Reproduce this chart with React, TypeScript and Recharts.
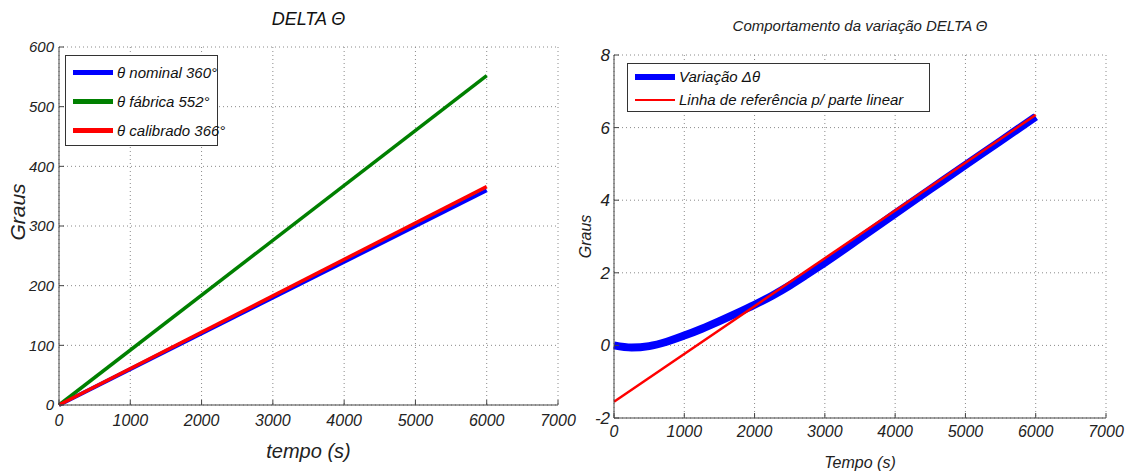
import React from 'react';
import { LineChart, Line, XAxis, YAxis, CartesianGrid } from 'recharts';

// left plot: DELTA theta for the three cases
const leftTime = [0, 6000];
const nominal = [0, 360];
const fabrica = [0, 552];
const calibrado = [0, 366];
const leftXTicks = [0, 1000, 2000, 3000, 4000, 5000, 6000, 7000];
const leftYTicks = [0, 100, 200, 300, 400, 500, 600];

// right plot: variation vs. linear reference
const varTime = [0, 250, 500, 750, 1000, 1250, 1500, 1750, 2000, 2250, 2500, 2750, 3000, 3500, 4000, 4500, 5000, 5500, 6000];
const variacao = [0, -0.06, -0.02, 0.1, 0.27, 0.46, 0.67, 0.89, 1.12, 1.37, 1.65, 1.96, 2.28, 2.95, 3.63, 4.3, 4.97, 5.63, 6.3];
const refTime = [0, 6000];
const referencia = [-1.55, 6.35];
const rightXTicks = [0, 1000, 2000, 3000, 4000, 5000, 6000, 7000];
const rightYTicks = [-2, 0, 2, 4, 6, 8];

const SANS = "'Liberation Sans', Arial, sans-serif";
const AXIS = '#444';
const GRID = '#8a8a8a';

const leftData = leftTime.map((t, i) => ({ t, nominal: nominal[i], fabrica: fabrica[i], calibrado: calibrado[i] }));
const varData = varTime.map((t, i) => ({ t, v: variacao[i] }));
const refData = refTime.map((t, i) => ({ t, v: referencia[i] }));

const tickStyle = (size: number) => ({ fontFamily: SANS, fontStyle: 'italic', fontSize: size, fill: '#222' });

const yLabel = (text: string, x: number, size: number, shift = 0) => (props: any) => {
  const vb = props.viewBox;
  const cy = vb.y + vb.height / 2 + shift;
  return (
    <text x={x} y={cy} transform={`rotate(-90 ${x} ${cy})`} textAnchor="middle" dominantBaseline="central"
      style={{ fontFamily: SANS, fontStyle: 'italic', fontSize: size, fill: '#222' }}>{text}</text>
  );
};

const xLabel = (text: string, y: number, size: number) => (props: any) => {
  const vb = props.viewBox;
  const cx = vb.x + vb.width / 2;
  return (
    <text x={cx} y={y} textAnchor="middle" dominantBaseline="central"
      style={{ fontFamily: SANS, fontStyle: 'italic', fontSize: size, fill: '#222' }}>{text}</text>
  );
};

const LegendBox = ({ items, style, size, rowH }: any) => (
  <div style={{ position: 'absolute', background: '#fff', border: '1px solid #333', boxSizing: 'border-box', ...style }}>
    {items.map((it: any) => (
      <div key={it.name} style={{ display: 'flex', alignItems: 'center', height: rowH }}>
        <div style={{ flex: '0 0 40px', height: it.w, background: it.color, marginLeft: 7, marginRight: 4 }} />
        <span style={{ fontFamily: SANS, fontStyle: 'italic', fontSize: size, color: '#111', whiteSpace: 'nowrap' }}>{it.name}</span>
      </div>
    ))}
  </div>
);

const LeftChart = () => (
  <LineChart width={600} height={475} data={leftData} margin={{ top: 47, right: 42, left: 0, bottom: 0 }}>
    <CartesianGrid stroke={GRID} strokeDasharray="1 3" />
    <XAxis dataKey="t" type="number" domain={[0, 7000]} ticks={leftXTicks} height={70}
      stroke={AXIS} tickSize={-5} tickMargin={15} tick={tickStyle(16)} interval={0}
      label={{ content: xLabel('tempo (s)', 451, 20) }} />
    <XAxis xAxisId="top" orientation="top" type="number" domain={[0, 7000]} ticks={leftXTicks} height={0}
      stroke={AXIS} tickSize={-5} tick={false} />
    <YAxis type="number" domain={[0, 600]} ticks={leftYTicks} width={59}
      stroke={AXIS} tickSize={-5} tickMargin={10} tick={tickStyle(15)} interval={0}
      label={{ content: yLabel('Graus', 17, 21, -14) }} />
    <YAxis yAxisId="right" orientation="right" type="number" domain={[0, 600]} ticks={leftYTicks} width={0}
      stroke={AXIS} tickSize={-5} tick={false} />
    <Line dataKey="nominal" stroke="#0000ff" strokeWidth={4} dot={false} isAnimationActive={false} />
    <Line dataKey="fabrica" stroke="#008000" strokeWidth={3.5} dot={false} isAnimationActive={false} />
    <Line dataKey="calibrado" stroke="#ff0000" strokeWidth={3.5} dot={false} isAnimationActive={false} />
  </LineChart>
);

const RightChart = () => (
  <LineChart width={565} height={475} margin={{ top: 55, right: 29, left: 0, bottom: 0 }}>
    <CartesianGrid stroke={GRID} strokeDasharray="1 3" />
    <XAxis dataKey="t" type="number" domain={[0, 7000]} ticks={rightXTicks} height={57}
      stroke={AXIS} tickSize={-5} tickMargin={13} tick={tickStyle(16)} interval={0}
      label={{ content: xLabel('Tempo (s)', 462, 16) }} />
    <XAxis xAxisId="top" orientation="top" type="number" domain={[0, 7000]} ticks={rightXTicks} height={0}
      stroke={AXIS} tickSize={-5} tick={false} />
    <YAxis type="number" domain={[-2, 8]} ticks={rightYTicks} width={44}
      stroke={AXIS} tickSize={-5} tickMargin={9} tick={tickStyle(17)} interval={0}
      label={{ content: yLabel('Graus', 15, 16) }} />
    <YAxis yAxisId="right" orientation="right" type="number" domain={[-2, 8]} ticks={rightYTicks} width={0}
      stroke={AXIS} tickSize={-5} tick={false} />
    <Line data={varData} dataKey="v" type="monotone" stroke="#0000ff" strokeWidth={8} dot={false} isAnimationActive={false} />
    <Line data={refData} dataKey="v" stroke="#ff0000" strokeWidth={2.5} dot={false} isAnimationActive={false} />
  </LineChart>
);

export default function App() {
  return (
    <div style={{ position: 'absolute', left: 0, top: 0, width: 1135, height: 475, background: '#fff', overflow: 'hidden' }}>
      <div style={{ position: 'absolute', left: 0, top: 0 }}>
        <LeftChart />
      </div>
      <div style={{ position: 'absolute', left: 570, top: 0 }}>
        <RightChart />
      </div>
      <div style={{ position: 'absolute', left: 59, width: 499, top: 9, textAlign: 'center', fontFamily: SANS, fontStyle: 'italic', fontSize: 18, color: '#111' }}>
        DELTA Θ
      </div>
      <div style={{ position: 'absolute', left: 614, width: 492, top: 17, textAlign: 'center', fontFamily: SANS, fontStyle: 'italic', fontSize: 15, color: '#222' }}>
        Comportamento da variação DELTA Θ
      </div>
      <LegendBox
        style={{ left: 65, top: 55, width: 153, height: 91, paddingTop: 2 }}
        size={15} rowH={29}
        items={[
          { name: 'θ nominal 360°', color: '#0000ff', w: 5 },
          { name: 'θ fábrica 552°', color: '#008000', w: 5 },
          { name: 'θ calibrado 366°', color: '#ff0000', w: 5 },
        ]} />
      <LegendBox
        style={{ left: 627, top: 63, width: 303, height: 49, paddingTop: 1 }}
        size={15} rowH={23}
        items={[
          { name: 'Variação Δθ', color: '#0000ff', w: 6 },
          { name: 'Linha de referência p/ parte linear', color: '#ff0000', w: 2 },
        ]} />
    </div>
  );
}
